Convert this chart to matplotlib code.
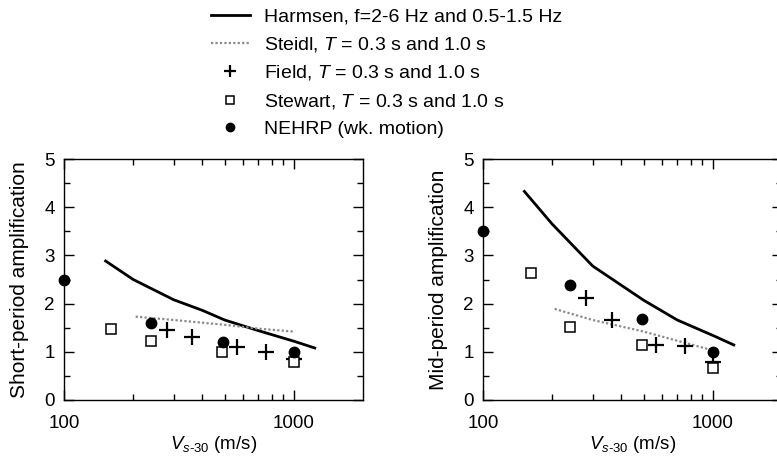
import matplotlib
matplotlib.use('Agg')
import matplotlib.pyplot as plt
from matplotlib.lines import Line2D
from matplotlib.ticker import FixedLocator, NullFormatter, MultipleLocator

plt.rcParams['font.family'] = ['Liberation Sans', 'DejaVu Sans']
plt.rcParams['mathtext.fontset'] = 'custom'
plt.rcParams['mathtext.rm'] = 'Liberation Sans'
plt.rcParams['mathtext.it'] = 'Liberation Sans:italic'

# === data: short-period panel ===
harmsen_x_short = [150, 200, 300, 400, 500, 700, 1000, 1250]
harmsen_y_short = [2.9, 2.5, 2.08, 1.86, 1.66, 1.44, 1.22, 1.07]
steidl_x_short = [205, 300, 500, 700, 1000]
steidl_y_short = [1.73, 1.66, 1.56, 1.48, 1.42]
field_x_short = [280, 360, 565, 760, 1000]
field_y_short = [1.45, 1.3, 1.1, 1.0, 0.85]
stewart_x_short = [160, 238, 488, 1000]
stewart_y_short = [1.47, 1.22, 1.0, 0.78]
nehrp_x_short = [100, 240, 490, 1000]
nehrp_y_short = [2.5, 1.6, 1.21, 1.0]

# === data: mid-period panel ===
harmsen_x_mid = [150, 200, 300, 400, 500, 700, 1000, 1250]
harmsen_y_mid = [4.35, 3.65, 2.78, 2.38, 2.07, 1.66, 1.34, 1.13]
steidl_x_mid = [205, 300, 500, 700, 1000]
steidl_y_mid = [1.89, 1.66, 1.42, 1.23, 1.03]
field_x_mid = [281, 363, 568, 759, 1000]
field_y_mid = [2.11, 1.67, 1.14, 1.12, 0.78]
stewart_x_mid = [161, 239, 490, 1000]
stewart_y_mid = [2.63, 1.52, 1.14, 0.67]
nehrp_x_mid = [100, 240, 490, 1000]
nehrp_y_mid = [3.5, 2.39, 1.69, 1.0]

legend_labels = ['Harmsen, f=2-6 Hz and 0.5-1.5 Hz',
                 'Steidl, $T$ = 0.3 s and 1.0 s',
                 'Field, $T$ = 0.3 s and 1.0 s',
                 'Stewart, $T$ = 0.3 s and 1.0 s',
                 'NEHRP (wk. motion)']

xlabel = r'$V_{s\text{-}30}$ (m/s)'


def draw_panel(ax, hx, hy, sx, sy, fx, fy, wx, wy, nx, ny, ylabel):
    ax.plot(hx, hy, color='black', lw=2.0, solid_capstyle='butt')
    ax.plot(sx, sy, color='#8a8a8a', lw=1.6, ls=(0, (1, 1)))
    ax.plot(fx, fy, ls='none', marker='+', ms=11, mew=1.6, color='black')
    ax.plot(wx, wy, ls='none', marker='s', ms=6.5, mew=1.1, mfc='white', mec='black')
    ax.plot(nx, ny, ls='none', marker='o', ms=7.5, color='black', clip_on=False, zorder=5)

    ax.set_xscale('log')
    ax.set_xlim(100, 2000)
    ax.set_ylim(0, 5)
    ax.xaxis.set_major_locator(FixedLocator([100, 1000]))
    ax.xaxis.set_minor_locator(FixedLocator([200, 300, 400, 500, 600, 700, 800, 900]))
    ax.xaxis.set_minor_formatter(NullFormatter())
    ax.set_xticklabels(['100', '1000'])
    ax.yaxis.set_major_locator(MultipleLocator(1))
    ax.yaxis.set_minor_locator(MultipleLocator(0.5))
    ax.tick_params(which='both', direction='in', top=True, right=True, labelsize=13.5, width=1.0)
    ax.tick_params(which='major', length=7)
    ax.tick_params(which='minor', length=4.5)
    ax.tick_params(axis='x', which='major', pad=10.5)
    ax.tick_params(axis='y', which='major', pad=6.5)
    for s in ax.spines.values():
        s.set_linewidth(1.0)
    ax.set_xlabel(xlabel, fontsize=13.5, labelpad=2)
    ax.set_ylabel(ylabel, fontsize=15, labelpad=11)


fig = plt.figure(figsize=(7.77, 4.59), dpi=100)
ax1 = fig.add_axes([64 / 777, 1 - 400 / 459, 299 / 777, 241 / 459])
ax2 = fig.add_axes([483 / 777, 1 - 400 / 459, 299 / 777, 241 / 459])

draw_panel(ax1, harmsen_x_short, harmsen_y_short, steidl_x_short, steidl_y_short,
           field_x_short, field_y_short, stewart_x_short, stewart_y_short,
           nehrp_x_short, nehrp_y_short, 'Short-period amplification')
draw_panel(ax2, harmsen_x_mid, harmsen_y_mid, steidl_x_mid, steidl_y_mid,
           field_x_mid, field_y_mid, stewart_x_mid, stewart_y_mid,
           nehrp_x_mid, nehrp_y_mid, 'Mid-period amplification')

# --- legend on top ---
handles = [Line2D([], [], color='black', lw=2.0),
           Line2D([], [], color='#8a8a8a', lw=1.6, ls=(0, (1, 1))),
           Line2D([], [], ls='none', marker='+', ms=9, mew=1.6, color='black'),
           Line2D([], [], ls='none', marker='s', ms=5.5, mew=1.1, mfc='white', mec='black'),
           Line2D([], [], ls='none', marker='o', ms=6, color='black')]
fig.legend(handles, legend_labels, loc='upper left', bbox_to_anchor=(203 / 777, 1.0),
           frameon=False, fontsize=14, handlelength=2.0, handletextpad=0.72,
           labelspacing=0.49, borderaxespad=0)

fig.savefig('out.png', dpi=100)
